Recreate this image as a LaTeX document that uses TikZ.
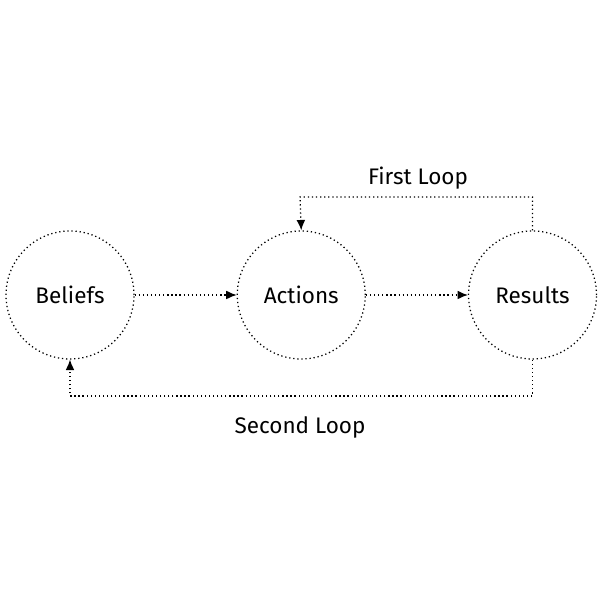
\documentclass[tikz,border=0pt]{standalone}
\usepackage{fontspec}
\setmainfont{Fira Sans}
\usetikzlibrary{positioning,arrows.meta}

\begin{document}
\begin{tikzpicture}[>={Latex[length=2.6mm,width=2.2mm]}]
  \tikzset{
    stage/.style={circle, draw, dash pattern=on 0.9pt off 2pt, line width=0.9pt,
                  minimum size=3.2cm, inner sep=0pt, font=\fontsize{16}{18}\selectfont},
    flow/.style={->, dash pattern=on 0.9pt off 2pt, line width=0.9pt},
    looplabel/.style={font=\fontsize{16}{18}\selectfont}
  }
  \useasboundingbox (0,0) rectangle (15,15);
  \node[stage] (beliefs) at (1.75,7.625) {Beliefs};
  \node[stage, right=2.55cm of beliefs] (actions) {Actions};
  \node[stage, right=2.55cm of actions] (results) {Results};
  \draw[flow] (beliefs) -- (actions);
  \draw[flow] (actions) -- (results);
  % first loop: results back to actions
  \coordinate (fl) at (7.5,10.075);
  \draw[flow] (results.north) |- (fl) -- (actions.north);
  \node[looplabel] (first) at (10.45,10.55) {First Loop};
  % second loop: results back to beliefs
  \coordinate (sl) at (1.75,5.1);
  \draw[flow] (results.south) |- (sl) -- (beliefs.south);
  \node[looplabel] (second) at (7.5,4.325) {Second Loop};
\end{tikzpicture}
\end{document}
